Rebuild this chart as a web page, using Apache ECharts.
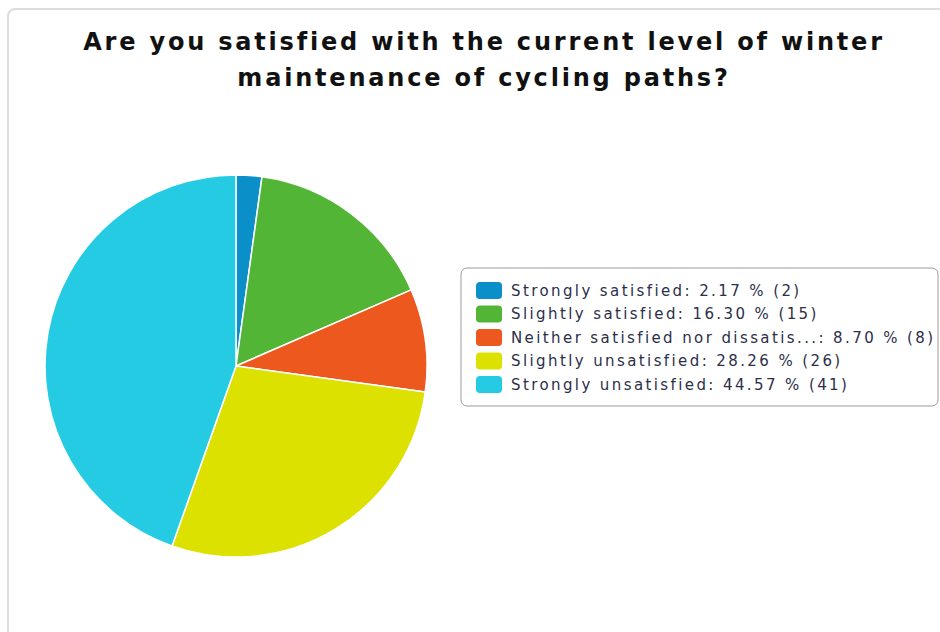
<!DOCTYPE html>
<html>
<head>
<meta charset="utf-8">
<title>Winter maintenance of cycling paths</title>
<script src="https://cdn.jsdelivr.net/npm/echarts@6/dist/echarts.min.js"></script>
<style>
  html, body { margin: 0; padding: 0; background: #ffffff; }
  #chart { width: 940px; height: 632px; }
  /* wide tracking for the heading and the legend entries */
  #chart svg text.wide-title { letter-spacing: 2.8px; }
  #chart svg text.wide-legend { letter-spacing: 2.4px; }
</style>
</head>
<body>
<div id="chart"></div>
<script>
// Survey answers and response counts
const answers = [
  'Strongly satisfied',
  'Slightly satisfied',
  'Neither satisfied nor dissatis...',
  'Slightly unsatisfied',
  'Strongly unsatisfied'
];
const counts = [2, 15, 8, 26, 41];
const colors = ['#0a8fc8', '#52b536', '#ec581e', '#dde100', '#25cbe3'];
const titleText = 'Are you satisfied with the current level of winter\nmaintenance of cycling paths?';

const total = counts.reduce((a, b) => a + b, 0);
const byName = {};
answers.forEach((n, i) => { byName[n] = counts[i]; });

const chart = echarts.init(document.getElementById('chart'), null, { renderer: 'svg' });

chart.setOption({
  animation: false,
  color: colors,
  title: {
    text: titleText,
    left: 479,
    textAlign: 'center',
    top: 19,
    textStyle: {
      fontFamily: 'DejaVu Sans',
      fontWeight: 'bold',
      fontSize: 24,
      lineHeight: 36,
      color: '#111111'
    }
  },
  graphic: [{
    type: 'rect',
    shape: { x: 8, y: 9, width: 1000, height: 700, r: 7 },
    style: { fill: 'none', stroke: '#dcdcdc', lineWidth: 2 },
    silent: true,
    z: -10
  }],
  legend: {
    orient: 'vertical',
    left: 461,
    top: 268,
    padding: [12, 4, 11, 13],
    itemWidth: 28,
    itemHeight: 19,
    itemGap: 2.5,
    icon: 'roundRect',
    borderColor: '#9a9a9a',
    borderWidth: 1,
    borderRadius: 6,
    selectedMode: false,
    textStyle: {
      fontFamily: 'DejaVu Sans',
      fontSize: 15,
      lineHeight: 19,
      width: 423,
      color: '#2c2f48',
      padding: [0, 0, 0, 3]
    },
    formatter: function (name) {
      const c = byName[name];
      return name + ': ' + (c / total * 100).toFixed(2) + ' % (' + c + ')';
    },
    data: answers
  },
  series: [{
    type: 'pie',
    center: [236, 366],
    radius: 191,
    startAngle: 90,
    clockwise: true,
    label: { show: false },
    labelLine: { show: false },
    emphasis: { disabled: true },
    itemStyle: { borderColor: '#ffffff', borderWidth: 1.5 },
    data: answers.map((n, i) => ({ name: n, value: counts[i] }))
  }]
});

// tag the rendered text nodes so the tracking rules above apply
function tagText() {
  const root = document.querySelector('#chart svg');
  if (!root) return;
  root.querySelectorAll('text').forEach(t => {
    const fw = (t.getAttribute('style') || '') + ' ' + (t.getAttribute('font-weight') || '');
    if (/bold/.test(fw) || /font-weight:\s*bold/.test(t.style.font || '')) {
      t.classList.add('wide-title');
    } else {
      t.classList.add('wide-legend');
    }
  });
}
tagText();
chart.on('finished', tagText);
</script>
</body>
</html>
